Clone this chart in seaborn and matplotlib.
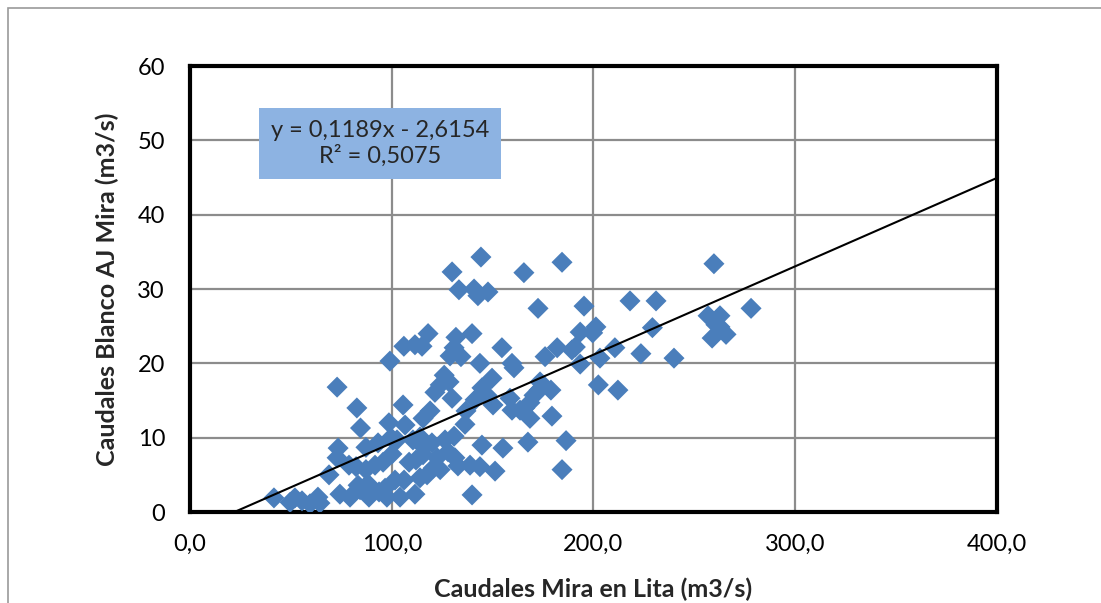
import matplotlib
matplotlib.use("Agg")
import matplotlib.pyplot as plt
import seaborn as sns
import pandas as pd
from matplotlib.patches import Rectangle

# ---- data ----
caudal_lita = [144.2, 129.9, 133.3, 140.8, 147.7, 142.7, 165.5, 184.4, 172.5, 259.7,
               195.3, 218.1, 231.0, 278.1, 72.9, 82.7, 84.5, 99.1, 106.0, 111.5,
               115.0, 118.0, 139.8, 131.8, 130.9, 128.9, 134.3, 143.7, 154.6, 159.6,
               160.6, 176.0, 182.0, 191.0, 193.4, 199.6, 201.2, 189.3, 193.4, 203.2,
               210.6, 223.5, 229.2, 239.9, 256.8, 262.7, 260.7, 258.8, 265.7, 262.7,
               202.4, 212.1, 178.9, 173.0, 170.5, 168.5, 166.0, 173.5, 179.4, 168.5,
               167.5, 186.4, 184.4, 158.6, 159.6, 163.6, 149.7, 144.7, 147.2, 150.2,
               141.3, 136.8, 136.3, 129.9, 128.4, 126.0, 124.0, 121.4, 119.0, 115.5,
               105.6, 106.6, 98.6, 99.6, 93.2, 87.2, 73.4, 72.9, 78.8, 82.3,
               87.2, 91.7, 95.7, 100.1, 102.6, 110.5, 114.0, 116.0, 119.9, 126.4,
               130.9, 127.9, 131.3, 132.8, 138.8, 143.7, 144.7, 151.2, 155.1, 139.8,
               111.5, 104.1, 97.6, 93.7, 88.7, 84.3, 79.3, 74.3, 68.9, 64.4,
               59.5, 55.5, 52.0, 49.6, 41.6, 63.4, 83.3, 88.2, 96.7, 101.6,
               106.1, 114.0, 117.5, 120.5, 124.0, 122.5, 112.0, 108.6, 115.5]
caudal_blanco = [34.3, 32.3, 29.9, 30.0, 29.6, 29.1, 32.2, 33.6, 27.4, 33.4,
                 27.7, 28.4, 28.4, 27.4, 16.8, 14.0, 11.3, 20.3, 22.3, 22.5,
                 22.3, 24.0, 24.0, 23.5, 22.1, 21.0, 20.9, 20.0, 22.1, 20.0,
                 19.4, 20.9, 22.1, 22.2, 24.2, 24.1, 24.9, 21.8, 19.9, 20.7,
                 22.1, 21.3, 24.8, 20.7, 26.4, 26.4, 25.2, 23.4, 23.9, 24.9,
                 17.1, 16.4, 16.4, 16.4, 15.7, 14.7, 14.0, 17.5, 12.9, 12.6,
                 9.4, 9.6, 5.7, 15.3, 13.7, 13.7, 18.0, 16.7, 15.7, 14.4,
                 15.1, 13.6, 11.8, 15.3, 17.5, 18.4, 17.1, 16.1, 13.6, 12.6,
                 14.4, 11.7, 12.0, 10.0, 9.3, 8.7, 8.6, 7.3, 6.3, 6.1,
                 5.7, 6.3, 6.7, 7.8, 9.7, 9.7, 10.1, 8.7, 9.3, 9.7,
                 10.2, 8.1, 7.3, 6.2, 6.3, 6.1, 9.0, 5.5, 8.6, 2.3,
                 2.4, 2.0, 2.0, 2.7, 2.0, 3.0, 2.0, 2.4, 5.0, 1.2,
                 1.1, 1.5, 1.9, 1.3, 1.9, 2.0, 3.6, 3.8, 3.2, 4.3,
                 4.3, 4.6, 5.0, 5.9, 5.7, 7.3, 7.0, 6.7, 7.7]
slope = 0.1189
intercept = -2.6154
r2 = 0.5075
x_ticks = [0, 100, 200, 300, 400]
x_tick_labels = ["0,0", "100,0", "200,0", "300,0", "400,0"]
y_ticks = [0, 10, 20, 30, 40, 50, 60]

df = pd.DataFrame({"lita": caudal_lita, "blanco": caudal_blanco})

sns.set_style("white")
plt.rcParams["font.family"] = ["Lato", "DejaVu Sans"]

fig = plt.figure(figsize=(11.01, 6.03), dpi=100)
ax = fig.add_axes([0.1726, 0.1509, 0.9055 - 0.1726, 0.8905 - 0.1509])

# outer chart border
fig.patches.append(Rectangle((8 / 1101, -0.01), 1.2, 1 - 8 / 603 + 0.01,
                             transform=fig.transFigure, fill=False,
                             edgecolor="#9a9a9a", linewidth=1.2))

sns.scatterplot(data=df, x="lita", y="blanco", marker="D", s=115,
                color="#4a7ebb", edgecolor="none", linewidth=0, ax=ax, zorder=3)

# trendline
x0 = -intercept / slope
xs = [x0, 400]
ys = [slope * v + intercept for v in xs]
ax.plot(xs, ys, color="black", linewidth=1.5, zorder=4)

ax.set_xlim(0, 400)
ax.set_ylim(0, 60)
ax.set_xticks(x_ticks)
ax.set_xticklabels(x_tick_labels)
ax.set_yticks(y_ticks)
ax.grid(True, color="#8c8c8c", linewidth=1.6, zorder=0)
ax.set_axisbelow(True)
for sp in ax.spines.values():
    sp.set_visible(True)
    sp.set_color("black")
    sp.set_linewidth(3)
ax.tick_params(axis="both", labelsize=17, length=0, colors="black")
ax.tick_params(axis="x", pad=16)
ax.tick_params(axis="y", pad=18)

ax.set_xlabel("Caudales Mira en Lita (m3/s)", fontsize=18, fontweight="bold", labelpad=16)
ax.set_ylabel("Caudales Blanco AJ Mira (m3/s)", fontsize=18, fontweight="bold", labelpad=13)

ax.text(94.2, 49.6, f"y = {slope:.4f}x - {abs(intercept):.4f}\nR² = {r2:.4f}".replace(".", ","),
        fontsize=17, ha="center", va="center", linespacing=1.2,
        bbox=dict(boxstyle="square,pad=0.5", facecolor="#8db3e2", edgecolor="none"),
        zorder=5)

fig.savefig("out.png", dpi=100)
